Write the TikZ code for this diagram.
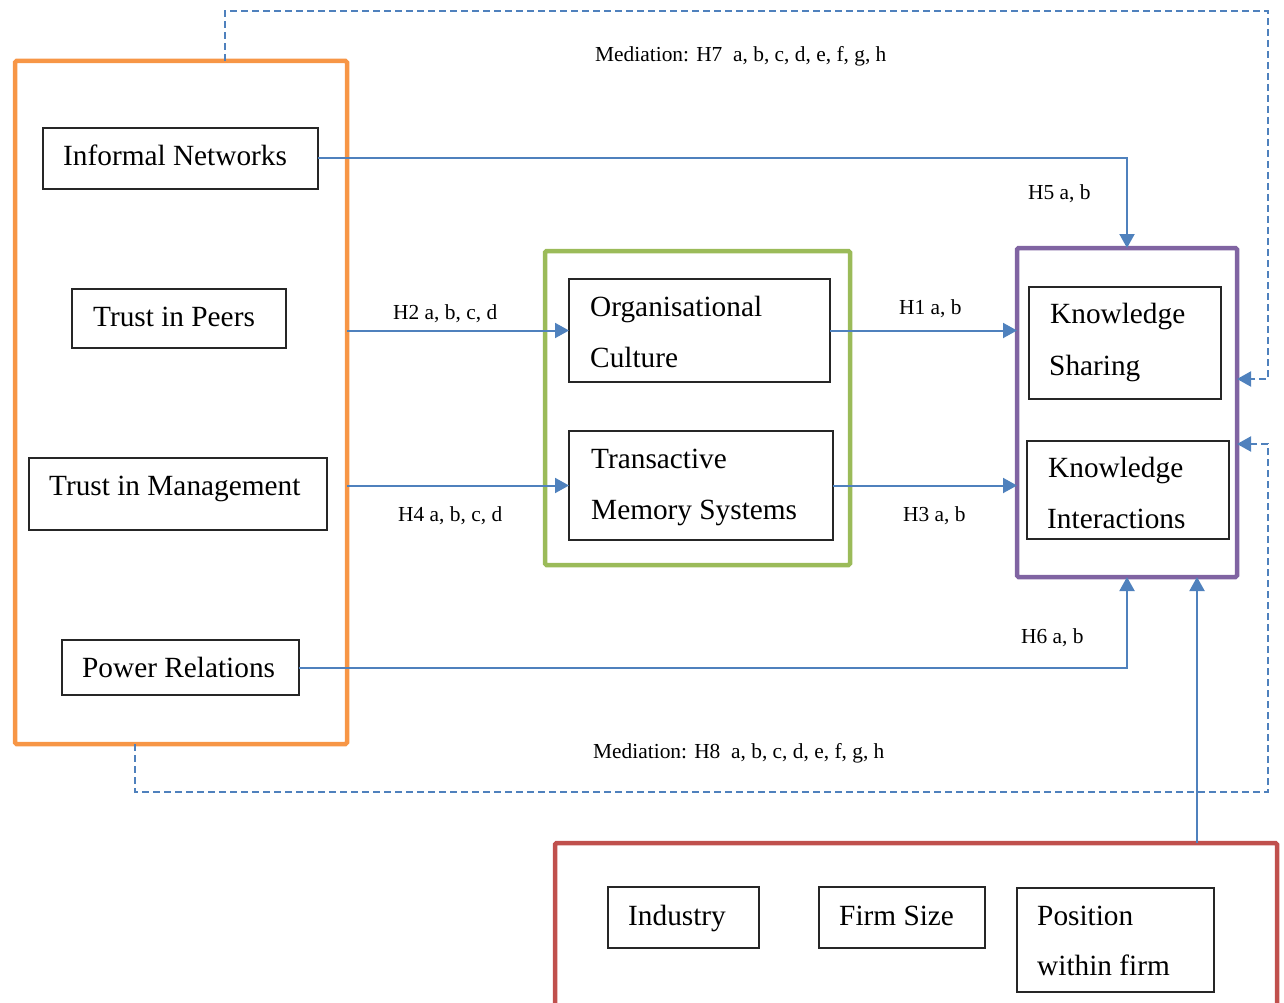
\documentclass[tikz,border=0pt]{standalone}
\usepackage{fontspec}
\setmainfont{Liberation Serif}
\usetikzlibrary{arrows.meta}
\definecolor{grpOrange}{HTML}{F79646}
\definecolor{grpGreen}{HTML}{9BBB59}
\definecolor{grpPurple}{HTML}{8064A2}
\definecolor{grpRed}{HTML}{C0504D}
\definecolor{linkBlue}{HTML}{4F81BD}
\begin{document}
\begin{tikzpicture}[x=1pt,y=-1pt,
  big/.style={font=\fontsize{29.3}{35}\selectfont, anchor=base west, inner sep=0pt},
  small/.style={font=\fontsize{21.4}{26}\selectfont, anchor=base west, inner sep=0pt},
  inbox/.style={draw=black!85, line width=1.5pt, inner sep=0pt, outer sep=0pt},
  group/.style={line width=4.5pt, rounded corners=1.5pt, inner sep=0pt, outer sep=0pt},
  link/.style={draw=linkBlue, line width=2pt, -{Triangle[length=14pt,width=15pt]}},
  medi/.style={link, dash pattern=on 7pt off 4pt},
]
\useasboundingbox (0,0) rectangle (1284,1003);
\clip (0,0) rectangle (1284,1003);

% group frames
\node[group, draw=grpOrange, minimum width=332pt, minimum height=683pt] (antecedents) at (181,402.5) {};
\node[group, draw=grpGreen, minimum width=305pt, minimum height=314pt] (mediators) at (697.5,408) {};
\node[group, draw=grpPurple, minimum width=220pt, minimum height=329pt] (outcomes) at (1127,412.5) {};
\node[group, draw=grpRed, minimum width=722pt, minimum height=167pt] (controls) at (916,926.5) {};

% variable boxes
\node[inbox, minimum width=275pt, minimum height=61pt] (IN) at (180.5,158.5) {};
\node[inbox, minimum width=214pt, minimum height=59pt] (TP) at (179,318.5) {};
\node[inbox, minimum width=298pt, minimum height=72pt] (TM) at (178,494) {};
\node[inbox, minimum width=237pt, minimum height=55pt] (PR) at (180.5,667.5) {};
\node[inbox, minimum width=261pt, minimum height=103pt] (OC) at (699.5,330.5) {};
\node[inbox, minimum width=264pt, minimum height=109pt] (TMS) at (701,485.5) {};
\node[inbox, minimum width=192pt, minimum height=112pt] (KS) at (1125,343) {};
\node[inbox, minimum width=202pt, minimum height=98pt] (KI) at (1128,490) {};
\node[inbox, minimum width=151pt, minimum height=61pt] (IND) at (683.5,917.5) {};
\node[inbox, minimum width=166pt, minimum height=61pt] (FS) at (902,917.5) {};
\node[inbox, minimum width=197pt, minimum height=104pt] (POS) at (1115.5,940) {};

% box texts
\node[big] (tIN) at (63,166) {Informal Networks};
\node[big] (tTP) at (93,326) {Trust in Peers};
\node[big] (tTM) at (49,495) {Trust in Management};
\node[big] (tPR) at (82,677) {Power Relations};
\node[big] (tOC1) at (590,316) {Organisational};
\node[big] (tOC2) at (590,367) {Culture};
\node[big] (tTMS1) at (591,468) {Transactive};
\node[big] (tTMS2) at (591,519) {Memory Systems};
\node[big] (tKS1) at (1050,323) {Knowledge};
\node[big] (tKS2) at (1049,375) {Sharing};
\node[big] (tKI1) at (1048,477) {Knowledge};
\node[big] (tKI2) at (1047,528) {Interactions};
\node[big] (tIND) at (628,925) {Industry};
\node[big] (tFS) at (839,925) {Firm Size};
\node[big] (tPOS1) at (1037,925) {Position};
\node[big] (tPOS2) at (1037,975) {within firm};

% direct paths
\draw[link] (IN.east) -| (outcomes.north);
\draw[link] (antecedents.east |- OC.west) -- (OC.west);
\draw[link] (antecedents.east |- TMS.west) -- (TMS.west);
\draw[link] (OC.east) -- (outcomes.west |- OC.east);
\draw[link] (TMS.east) -- (outcomes.west |- TMS.east);
\draw[link] (PR.east) -| (outcomes.south);
\coordinate (ctrlX) at (1197,0);
\draw[link] (controls.north -| ctrlX) -- (outcomes.south -| ctrlX);

% mediation paths
\coordinate (topTurn) at (225,11);
\coordinate (topIn) at (1268,379);
\coordinate (botTurn) at (135,792);
\coordinate (botIn) at (1268,444);
\draw[medi] (antecedents.north -| topTurn) -- (topTurn) -| (topIn) -- (outcomes.east |- topIn);
\draw[medi] (antecedents.south -| botTurn) -- (botTurn) -| (botIn) -- (outcomes.east |- botIn);

% path labels
\node[small] (l7) at (595,62) {Mediation: H7\ \ a, b, c, d, e, f, g, h};
\node[small] (l5) at (1028,200) {H5 a, b};
\node[small] (l2) at (393,319) {H2 a, b, c, d};
\node[small] (l4) at (398,521) {H4 a, b, c, d};
\node[small] (l1) at (899,314) {H1 a, b};
\node[small] (l3) at (903,521) {H3 a, b};
\node[small] (l6) at (1021,643) {H6 a, b};
\node[small] (l8) at (593,758) {Mediation: H8\ \ a, b, c, d, e, f, g, h};
\end{tikzpicture}
\end{document}
